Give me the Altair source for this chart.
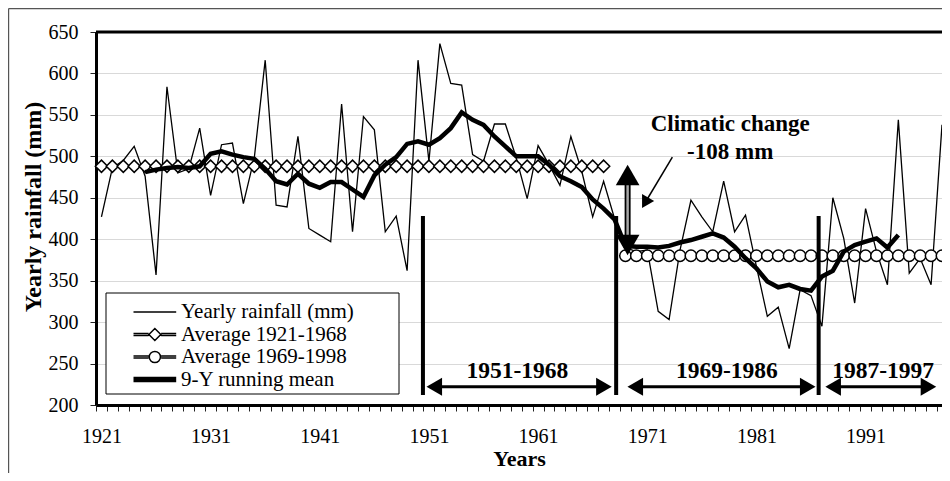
import altair as alt
import pandas as pd

# ---------------- data ----------------
years = list(range(1921, 1999))
rainfall = [427, 486, 495, 512, 476, 357, 584, 480, 485, 534,
            453, 514, 516, 443, 498, 616, 441, 439, 524, 413,
            405, 397, 563, 409, 548, 532, 409, 428, 362, 616,
            494, 636, 588, 586, 502, 494, 539, 539, 498, 449,
            513, 490, 465, 524, 482, 427, 470, 425, 390, 385,
            387, 313, 303, 387, 447, 427, 409, 470, 409, 429,
            367, 307, 318, 268, 339, 332, 295, 450, 401, 323,
            437, 385, 345, 544, 359, 377, 345, 538]

avg_early_years = list(range(1921, 1968))
avg_early = 488
avg_late_years = list(range(1969, 1999))
avg_late = 380

mean_years = list(range(1925, 1995))
running_mean = [481, 484, 486, 487, 486, 488, 503, 506, 502, 499,
                497, 485, 470, 466, 479, 467, 462, 469, 469, 460,
                451, 477, 490, 499, 515, 518, 514, 522, 534, 553,
                544, 538, 524, 512, 500, 500, 500, 490, 476, 470,
                463, 448, 437, 424, 392, 391, 391, 390, 392, 396,
                399, 403, 407, 402, 391, 377, 365, 349, 342, 345,
                340, 338, 355, 362, 385, 393, 397, 401, 390, 405]

series_names = ["Yearly rainfall (mm)", "Average 1921-1968",
                "Average 1969-1998", "9-Y running mean"]

y_ticks = list(range(200, 651, 50))

# annotations (data units)
period_labels = ["1951-1968", "1969-1986", "1987-1997"]
period_label_x = [1959.1, 1978.3, 1992.6]
period_label_y = 241
period_start = [1950.78, 1969.19, 1987.32]
period_end = [1967.74, 1986.41, 1997.47]
period_arrow_y = 222
break_x = [1950.45, 1968.15, 1986.7]
break_top = 428
break_bottom = 212

change_lines = ["Climatic change", "-108 mm"]
change_x = 1978.6
change_y = [539, 505]
pointer_x = [1973.3, 1970.8]
pointer_y = [499, 444]
dbl_x = 1969.2
dbl_top_head = 477.6
dbl_bottom_head = 393

FONT = "Liberation Serif"
PAD_L, PAD_T, PAD_B = 88, 24, 68
W, H = 846, 373
XDOM = [1920.5, 1998.0]
YDOM = [200, 650]
PX_PER_YEAR = W / (XDOM[1] - XDOM[0])
HEAD_H = 0.71   # half length of horizontal arrow heads, in years

xs = alt.Scale(domain=XDOM, nice=False, zero=False)
ys = alt.Scale(domain=YDOM, nice=False, zero=False)

x_axis = alt.Axis(
    values=years, format="d",
    tickOffset=-PX_PER_YEAR / 2, labelOffset=PX_PER_YEAR / 2,
    labelExpr="(datum.value - 1921) % 10 === 0 ? datum.label : ''",
    labelOverlap=False, labelFlush=False,
    tickSize=6, tickColor="#222", tickWidth=1,
    domainColor="black", domainWidth=3,
    labelFont=FONT, labelFontSize=20, labelColor="black", labelPadding=15,
    title="Years", titleFont=FONT, titleFontSize=22, titleFontWeight="bold",
    titleColor="black", titlePadding=2.5, grid=False)

y_axis = alt.Axis(
    values=y_ticks, grid=True, gridColor="#d9d9d9", gridWidth=1,
    tickSize=6, tickColor="#222", tickWidth=1,
    domainColor="black", domainWidth=3,
    labelFont=FONT, labelFontSize=20, labelColor="black", labelPadding=12,
    title="Yearly rainfall (mm)", titleFont=FONT, titleFontSize=24,
    titleFontWeight="bold", titleColor="black",
    titleX=-56, titleY=174.5, titleBaseline="alphabetic", titleAlign="center")


def X(field="year"):
    return alt.X(f"{field}:Q", scale=xs, axis=x_axis)


def Y(field="value"):
    return alt.Y(f"{field}:Q", scale=ys, axis=y_axis)


df_rain = pd.DataFrame({"year": years, "value": rainfall})
df_a1 = pd.DataFrame({"year": avg_early_years, "value": [avg_early] * len(avg_early_years)})
df_a2 = pd.DataFrame({"year": avg_late_years, "value": [avg_late] * len(avg_late_years)})
df_mean = pd.DataFrame({"year": mean_years, "value": running_mean})
# legend-only points, placed outside the x domain and clipped away
df_leg = pd.DataFrame({"series": series_names, "year": [1900] * 4, "value": [400] * 4})

rain = alt.Chart(df_rain).mark_line(color="black", strokeWidth=1.3).encode(x=X(), y=Y())
a1_line = alt.Chart(df_a1).mark_line(color="black", strokeWidth=2).encode(x=X(), y=Y())
a1_pts = alt.Chart(df_a1).mark_point(shape="diamond", filled=True, fill="white",
                                     stroke="black", strokeWidth=1.5, size=150,
                                     opacity=1).encode(x=X(), y=Y())
a2_line = alt.Chart(df_a2).mark_line(color="black", strokeWidth=2).encode(x=X(), y=Y())
a2_pts = alt.Chart(df_a2).mark_point(shape="circle", filled=True, fill="white",
                                     stroke="black", strokeWidth=1.5, size=130,
                                     opacity=1).encode(x=X(), y=Y())
mean = alt.Chart(df_mean).mark_line(color="black", strokeWidth=4.5).encode(x=X(), y=Y())

# legend symbols as custom paths (unit = sqrt(symbolSize)/2 = 7 px)
BARS = ("M-1,-0.13L1.15,-0.13M-1,0.13L1.15,0.13"
        "M2.95,-0.13L5.1,-0.13M2.95,0.13L5.1,0.13")
DIAM = "M1.2,0L2.05,-0.85L2.9,0L2.05,0.85Z"
CIRC = "M2.85,0A0.8,0.8,0,1,1,1.25,0A0.8,0.8,0,1,1,2.85,0Z"
LINE = "M-1,0L5.1,0"
THICK = "M-1,-0.27L5.1,-0.27M-1,-0.09L5.1,-0.09M-1,0.09L5.1,0.09M-1,0.27L5.1,0.27"
legend_shapes = [LINE, BARS + DIAM, BARS + CIRC, THICK]

legend = alt.Legend(
    orient="none", legendX=10, legendY=269.5, title=None,
    labelFont=FONT, labelFontSize=21, labelColor="black", labelLimit=400,
    labelOffset=30, symbolSize=196, symbolOffset=24, rowPadding=0.5, padding=0,
    symbolStrokeColor="black", symbolStrokeWidth=1.5,
    symbolOpacity=1)

leg_layer = alt.Chart(df_leg).mark_point(
    filled=False, color="black", strokeWidth=1.5, size=196,
    opacity=1, clip=True).encode(
    x=X(), y=Y(),
    shape=alt.Shape("series:N",
                    scale=alt.Scale(domain=series_names, range=legend_shapes),
                    legend=legend))

# legend frame
one = alt.Data(values=[{}])
leg_box = alt.Chart(one).mark_rect(fill="white", stroke="black", strokeWidth=1).encode(
    x=alt.value(10), x2=alt.value(303), y=alt.value(261), y2=alt.value(362))

# vertical break lines
df_breaks = pd.DataFrame({"x": break_x, "y1": [break_bottom] * 3, "y2": [break_top] * 3})
breaks = alt.Chart(df_breaks).mark_rule(color="black", strokeWidth=4).encode(
    x=X("x"), y=Y("y1"), y2=alt.Y2("y2"))

# horizontal period arrows
df_periods = pd.DataFrame({
    "s": [v + HEAD_H for v in period_start],
    "e": [v - HEAD_H for v in period_end],
    "y": [period_arrow_y] * 3})
shafts = alt.Chart(df_periods).mark_rule(color="black", strokeWidth=3).encode(
    x=X("s"), x2=alt.X2("e"), y=Y("y"))

# vertical double arrow shaft
df_dbl = pd.DataFrame({"x": [dbl_x], "y1": [dbl_bottom_head], "y2": [dbl_top_head]})
dbl_outer = alt.Chart(df_dbl).mark_rule(color="black", strokeWidth=6).encode(
    x=X("x"), y=Y("y1"), y2=alt.Y2("y2"))
dbl_inner = alt.Chart(df_dbl).mark_rule(color="#a8a8a8", strokeWidth=2.5).encode(
    x=X("x"), y=Y("y1"), y2=alt.Y2("y2"))

# pointer from the text to the double arrow
df_ptr = pd.DataFrame({"x": [pointer_x[0]], "y": [pointer_y[0]],
                       "x2": [pointer_x[1]], "y2": [pointer_y[1]]})
ptr = alt.Chart(df_ptr).mark_rule(color="black", strokeWidth=1.5).encode(
    x=X("x"), y=Y("y"), x2=alt.X2("x2"), y2=alt.Y2("y2"))

# arrow heads
heads_rows = []
for s, e in zip(period_start, period_end):
    heads_rows.append({"x": s + HEAD_H, "y": period_arrow_y, "shape": "triangle-left", "angle": 0, "size": 324})
    heads_rows.append({"x": e - HEAD_H, "y": period_arrow_y, "shape": "triangle-right", "angle": 0, "size": 324})
heads_rows.append({"x": dbl_x, "y": dbl_top_head, "shape": "triangle-up", "angle": 0, "size": 560})
heads_rows.append({"x": dbl_x, "y": dbl_bottom_head, "shape": "triangle-down", "angle": 0, "size": 560})
heads_rows.append({"x": pointer_x[1], "y": pointer_y[1], "shape": "triangle-up", "angle": 210, "size": 196})
df_heads = pd.DataFrame(heads_rows)
heads = alt.Chart(df_heads).mark_point(filled=True, color="black", opacity=1).encode(
    x=X("x"), y=Y("y"),
    shape=alt.Shape("shape:N", scale=None),
    angle=alt.Angle("angle:Q", scale=None),
    size=alt.Size("size:Q", scale=None))

# texts
df_ptxt = pd.DataFrame({"x": period_label_x, "y": [period_label_y] * 3, "t": period_labels})
ptxt = alt.Chart(df_ptxt).mark_text(font=FONT, fontSize=23.5, fontWeight="bold",
                                   color="black", align="center", baseline="middle").encode(
    x=X("x"), y=Y("y"), text="t:N")
df_ctxt = pd.DataFrame({"x": [change_x] * 2, "y": change_y, "t": change_lines})
ctxt = alt.Chart(df_ctxt).mark_text(font=FONT, fontSize=23, fontWeight="bold",
                                   color="black", align="center", baseline="middle").encode(
    x=X("x"), y=Y("y"), text="t:N")

# plot top border and the outer chart frame
top_border = alt.Chart(one).mark_rule(color="black", strokeWidth=3).encode(
    x=alt.value(0), x2=alt.value(W), y=alt.value(0))
outer_left = alt.Chart(one).mark_rule(color="#555", strokeWidth=1.2).encode(
    x=alt.value(-PAD_L + 0.6), y=alt.value(-PAD_T + 0.6), y2=alt.value(H + PAD_B))
outer_top = alt.Chart(one).mark_rule(color="#555", strokeWidth=1.2).encode(
    x=alt.value(-PAD_L + 0.6), x2=alt.value(W), y=alt.value(-PAD_T + 0.6))

chart = alt.layer(
    rain, a1_line, a1_pts, a2_line, a2_pts, mean, leg_box, leg_layer,
    breaks, shafts, dbl_outer, dbl_inner, ptr, heads, ptxt, ctxt,
    top_border, outer_left, outer_top
).properties(
    width=W, height=H,
    padding={"left": PAD_L, "top": PAD_T, "right": 0, "bottom": PAD_B},
    autosize=alt.AutoSizeParams(type="none"),
    background="white"
).configure(font=FONT).configure_legend(
    labelFont=FONT, labelFontSize=21, labelColor="black"
).configure_view(strokeWidth=0)

chart.save("out.html", embed_options={"renderer": "svg", "actions": False})
